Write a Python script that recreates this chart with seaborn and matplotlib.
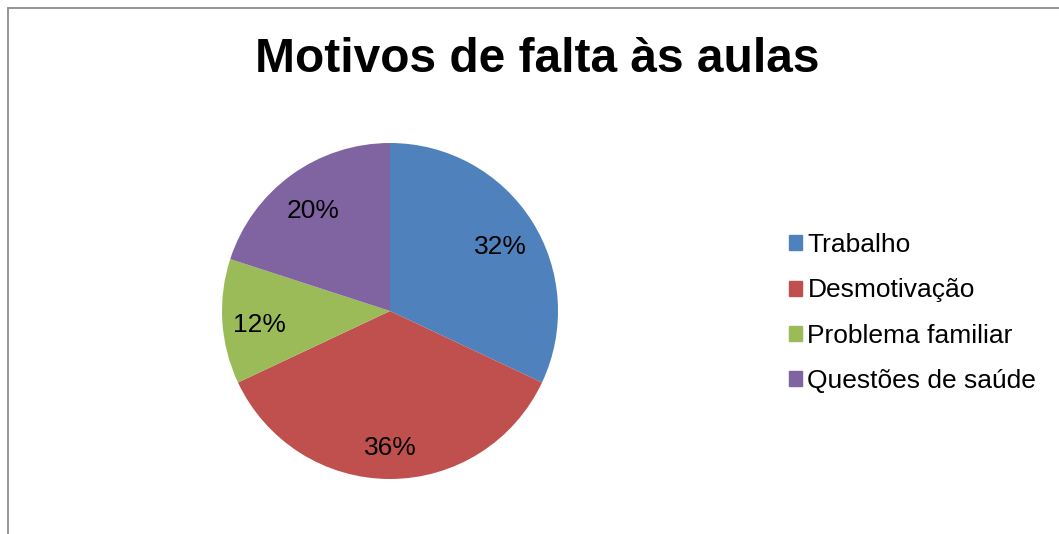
import matplotlib
matplotlib.use("Agg")
import matplotlib.pyplot as plt
import matplotlib.patches as mpatches
from matplotlib.lines import Line2D
import seaborn as sns

# ---------------------------------
# Data
# ---------------------------------

motivos = ["Trabalho", "Desmotivação", "Problema familiar", "Questões de saúde"]
percentuais = [32, 36, 12, 20]
cores = ["#4F81BD", "#C0504D", "#9BBB59", "#8064A2"]

# ---------------------------------
# Theme
# ---------------------------------

sns.set_theme(style="white")
plt.rcParams["font.family"] = ["Liberation Sans", "DejaVu Sans"]
plt.rcParams["text.color"] = "black"

W, H = 1059, 534
fig = plt.figure(figsize=(W / 100, H / 100), dpi=100)
fig.patch.set_facecolor("white")

# ---------------------------------
# Outer frame (left and top edges)
# ---------------------------------

fx, fy = 7.5 / W, 1 - 7.5 / H
fig.add_artist(Line2D([fx, 1.0], [fy, fy], transform=fig.transFigure,
                      color="#8c8c8c", lw=1.3))
fig.add_artist(Line2D([fx, fx], [fy, 0.0], transform=fig.transFigure,
                      color="#8c8c8c", lw=1.3))

# ---------------------------------
# Pie
# ---------------------------------

cx, cy, r = 390, 311, 168
ax = fig.add_axes([(cx - r) / W, (H - cy - r) / H, 2 * r / W, 2 * r / H])

palette = sns.color_palette(cores)

wedges, texts, autotexts = ax.pie(
    percentuais,
    colors=palette,
    startangle=90,
    counterclock=False,
    autopct="%d%%",
    pctdistance=0.78,
    wedgeprops={"linewidth": 0},
    textprops={"fontsize": 19, "color": "black"},
)

# labels sit a little lower than matplotlib's default
for t in autotexts:
    x, y = t.get_position()
    t.set_position((x, y - 0.036))

ax.set_xlim(-1, 1)
ax.set_ylim(-1, 1)
ax.set_aspect("equal")
ax.axis("off")

# ---------------------------------
# Title
# ---------------------------------

fig.text(537 / W, 1 - 59 / H, "Motivos de falta às aulas",
         ha="center", va="center", fontsize=34.5, fontweight="bold",
         color="black")

# ---------------------------------
# Legend
# ---------------------------------

handles = [mpatches.Patch(color=c, label=m) for c, m in zip(palette, motivos)]
fig.legend(
    handles=handles,
    loc="center left",
    bbox_to_anchor=(789 / W, 1 - 313 / H),
    frameon=False,
    fontsize=19,
    labelcolor="black",
    handlelength=0.5,
    handleheight=0.5,
    handletextpad=0.2,
    labelspacing=0.8,
    borderpad=0,
    borderaxespad=0,
)

plt.savefig("out.png", dpi=100, facecolor="white")
